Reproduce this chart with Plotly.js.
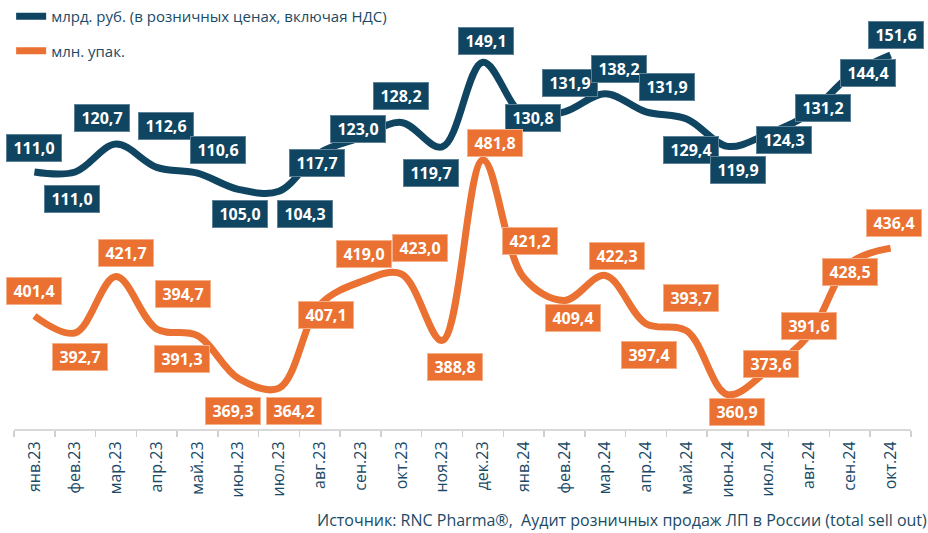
<!DOCTYPE html>
<html>
<head>
<meta charset="utf-8">
<script src="https://cdn.plot.ly/plotly-3.0.1.min.js"></script>
<style>html,body{margin:0;padding:0;background:#fff;}#chart{width:928px;height:533px;}</style>
</head>
<body>
<div id="chart"></div>
<script>
// ---- data ----
const months = ["янв.23","фев.23","мар.23","апр.23","май.23","июн.23","июл.23","авг.23","сен.23","окт.23","ноя.23","дек.23",
                "янв.24","фев.24","мар.24","апр.24","май.24","июн.24","июл.24","авг.24","сен.24","окт.24"];
const rubBln = [111.0,111.0,120.7,112.6,110.6,105.0,104.3,117.7,123.0,128.2,119.7,149.1,
                130.8,131.9,138.2,131.9,129.4,119.9,124.3,131.2,144.4,151.6];
const packsMln = [401.4,392.7,421.7,394.7,391.3,369.3,364.2,407.1,419.0,423.0,388.8,481.8,
                  421.2,409.4,422.3,397.4,393.7,360.9,373.6,391.6,428.5,436.4];
const seriesNames = ["млрд. руб. (в розничных ценах, включая НДС)", "млн. упак."];
const sourceText = "Источник: RNC Pharma®,  Аудит розничных продаж ЛП в России (total sell out)";

// ---- label placement (pixel offsets from each point: [dx, dy down]) ----
const rubLabelOffset = [[0,-24],[-3,27],[-14,-26],[9,-41],[21,-23],[2,25],[26,23],[-3,10],[-3,-8],[0,-26],[-11,26],[3,-21],
                        [9,3],[6,-29],[14,-25],[21,-25],[4,31],[10,24],[16,6],[14,-6],[18,-3],[5,-20]];
const packLabelOffset = [[0,-25],[5,24],[10,-24],[26,-35],[-15,23],[-5,33],[15,23],[6,10],[3,-28],[19,-26],[13,27],[12,-17],
                         [6,-37],[9,18],[12,-19],[3,31],[4,-33],[9,17],[3,-6],[0,-9],[0,9],[3,-25]];

const BLUE = "#0f4561";
const ORANGE = "#ea7131";
const TEXT = "#1a4a66";
const FONT = "'Open Sans', 'Noto Sans', sans-serif";

const fmt = v => v.toFixed(1).replace(".", ",");

const traces = [
  {x: months, y: rubBln, name: seriesNames[0], type: "scatter", mode: "lines", yaxis: "y",
   legendgroup: "a", line: {color: BLUE, width: 7, shape: "spline", smoothing: 1}, hoverinfo: "skip"},
  {x: months, y: packsMln, name: seriesNames[1], type: "scatter", mode: "lines", yaxis: "y2",
   legendgroup: "b", line: {color: ORANGE, width: 7, shape: "spline", smoothing: 1}, hoverinfo: "skip"}
];

function labels(vals, offs, yref, bg, edge) {
  return vals.map((v, i) => ({
    x: months[i], y: v, xref: "x", yref: yref, showarrow: false,
    text: "<b>" + fmt(v) + "</b>",
    xshift: offs[i][0], yshift: -offs[i][1],
    bgcolor: bg, bordercolor: edge, borderwidth: 1, borderpad: 1,
    width: 52, height: 24, align: "center", valign: "middle",
    font: {family: FONT, size: 16, color: "#ffffff"}
  }));
}

const annotations = [].concat(
  labels(rubBln, rubLabelOffset, "y", BLUE, "#5d8197"),
  labels(packsMln, packLabelOffset, "y2", ORANGE, "#f3b08a"),
  [{xref: "paper", yref: "paper", x: 1.02, y: -0.218, xanchor: "right", yanchor: "middle",
    showarrow: false, text: sourceText, font: {family: FONT, size: 16, color: TEXT}}]
);

const layout = {
  width: 928, height: 533,
  margin: {l: 14, r: 17, t: 10, b: 104, autoexpand: false},
  paper_bgcolor: "#ffffff", plot_bgcolor: "#ffffff",
  font: {family: FONT, color: TEXT},
  showlegend: true,
  legend: {xref: "container", yref: "container", x: 0.012, y: 1.004, xanchor: "left", yanchor: "top", orientation: "v",
           tracegroupgap: 12, bgcolor: "rgba(0,0,0,0)", font: {family: FONT, size: 15, color: TEXT},
           itemwidth: 30},
  xaxis: {type: "category", range: [-0.5, 21.5], tickangle: -90, ticks: "outside", ticklen: 6,
          tickson: "boundaries", tickcolor: "#d0d0d0", tickwidth: 1.5, ticklabelstandoff: 4,
          showline: true, linecolor: "#d9d9d9", linewidth: 2, showgrid: false, zeroline: false,
          automargin: false,
          tickfont: {family: FONT, size: 16, color: TEXT}, fixedrange: true},
  yaxis: {range: [21.83, 167.22], showgrid: false, zeroline: false, showticklabels: false, showline: false, ticks: ""},
  yaxis2: {range: [343.14, 559.12], overlaying: "y", side: "right", showgrid: false, zeroline: false,
           showticklabels: false, showline: false, ticks: ""},
  annotations: annotations
};

Plotly.newPlot("chart", traces, layout, {displayModeBar: false, staticPlot: true});
</script>
</body>
</html>
